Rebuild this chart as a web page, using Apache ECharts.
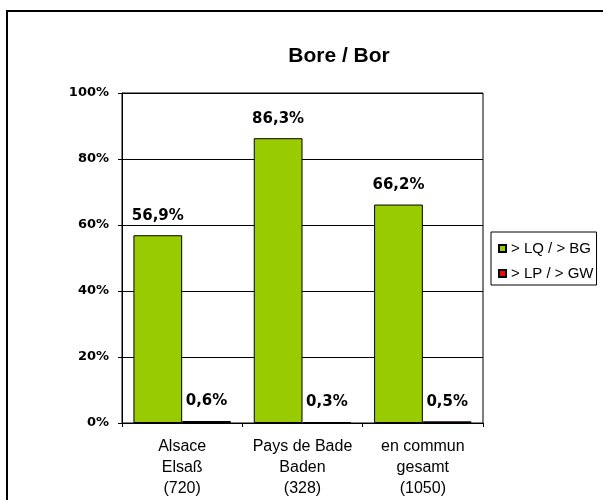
<!DOCTYPE html>
<html>
<head>
<meta charset="utf-8">
<script src="https://cdn.jsdelivr.net/npm/echarts@6/dist/echarts.min.js"></script>
<style>
  html, body { margin: 0; padding: 0; background: #fff; }
  #chart { width: 603px; height: 500px; }
</style>
</head>
<body>
<div id="chart"></div>
<script>
const chartTitle = 'Bore / Bor';
const categories = ['Alsace\nElsaß\n(720)', 'Pays de Bade\nBaden\n(328)', 'en commun\ngesamt\n(1050)'];
const seriesNames = ['> LQ / > BG', '> LP / > GW'];
const lqValues = [56.9, 86.3, 66.2];
const lpValues = [0.6, 0.3, 0.5];
const yMin = 0;
const yMax = 100;
const yStep = 20;

const arial = 'Liberation Sans, Arial, sans-serif';
const boldFont = 'DejaVu Sans, Liberation Sans, Arial, sans-serif';

function pct(v) {
  return v.toFixed(1).replace('.', ',') + '%';
}

const chart = echarts.init(document.getElementById('chart'), null, { renderer: 'canvas' });

const barLabel = {
  show: true,
  position: 'top',
  distance: 12,
  fontFamily: boldFont,
  fontWeight: 'bold',
  fontSize: 15,
  color: '#000',
  formatter: p => pct(p.value)
};

chart.setOption({
  animation: false,
  backgroundColor: '#fff',
  graphic: [{
    type: 'rect',
    shape: { x: 7, y: 11, width: 800, height: 800 },
    style: { fill: 'none', stroke: '#000', lineWidth: 2 },
    silent: true,
    z: -1
  }],
  title: {
    text: chartTitle,
    left: 339,
    top: 46,
    textAlign: 'center',
    padding: 0,
    textStyle: { fontFamily: arial, fontWeight: 'bold', fontSize: 21, color: '#000' }
  },
  legend: {
    orient: 'vertical',
    left: 491,
    top: 232,
    padding: [9, 3, 4, 7],
    itemGap: 10,
    itemWidth: 7,
    itemHeight: 7,
    icon: 'rect',
    borderColor: '#000',
    borderWidth: 1,
    textStyle: { fontFamily: arial, fontSize: 15, color: '#000' },
    data: seriesNames
  },
  grid: {
    left: 122,
    right: 120,
    top: 93,
    bottom: 77,
    show: true,
    borderColor: '#000',
    borderWidth: 1,
    backgroundColor: 'transparent'
  },
  xAxis: {
    type: 'category',
    data: categories,
    axisLine: { show: true, lineStyle: { color: '#000', width: 1 } },
    axisTick: { show: true, length: 4, inside: false, lineStyle: { color: '#000' } },
    axisLabel: {
      margin: 13,
      fontFamily: arial,
      fontSize: 16,
      lineHeight: 21,
      color: '#000',
      interval: 0
    },
    splitLine: { show: false }
  },
  yAxis: {
    type: 'value',
    min: yMin,
    max: yMax,
    interval: yStep,
    axisLine: { show: true, lineStyle: { color: '#000', width: 1 } },
    axisTick: { show: true, length: 4, lineStyle: { color: '#000' } },
    axisLabel: {
      margin: 13,
      fontFamily: boldFont,
      fontWeight: 'bold',
      fontSize: 13,
      color: '#000',
      formatter: '{value}%'
    },
    splitLine: { show: true, lineStyle: { color: '#000', width: 1 } }
  },
  series: [
    {
      name: seriesNames[0],
      type: 'bar',
      data: lqValues,
      barGap: '0%',
      barCategoryGap: '19%',
      itemStyle: { color: '#99CC00', borderColor: '#000', borderWidth: 1 },
      label: barLabel
    },
    {
      name: seriesNames[1],
      type: 'bar',
      data: lpValues,
      barGap: '0%',
      barCategoryGap: '19%',
      itemStyle: { color: '#FF0000', borderColor: '#000', borderWidth: 1 },
      label: barLabel
    }
  ]
});
</script>
</body>
</html>
